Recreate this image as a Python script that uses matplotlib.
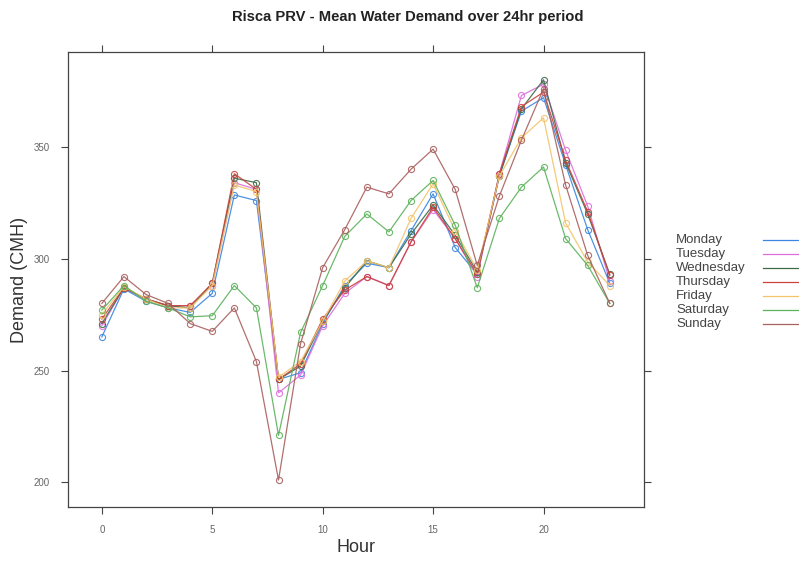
import matplotlib
matplotlib.use("Agg")
import matplotlib.pyplot as plt
from matplotlib.lines import Line2D

plt.rcParams['font.family'] = ['Liberation Sans', 'DejaVu Sans']

hours = list(range(24))
days = ["Monday", "Tuesday", "Wednesday", "Thursday", "Friday", "Saturday", "Sunday"]
colors = ["#3c86e0", "#dd6fdd", "#3d6b4a", "#c8443c", "#f2c46a", "#5cb25c", "#a8605e"]

monday = [265, 286.5, 281, 278, 276, 284.5, 328.5, 326, 246, 249, 271, 288, 298, 296,
          312.5, 329, 305, 293, 337, 366, 372, 342, 313, 289]
tuesday = [270, 287, 282, 279, 279, 288, 334, 331, 240, 248, 270, 284.5, 292, 288,
           307.5, 322, 309, 292, 338, 373, 378, 348.5, 323.5, 290]
wednesday = [271, 287, 282, 279, 278, 289, 336, 334, 246, 252, 272, 287, 299, 296,
             311, 324, 310.5, 294, 337, 367, 380, 343, 320, 293]
thursday = [273, 287, 282, 279, 279, 289, 338, 331, 246, 253, 273, 286, 292, 288,
            307.5, 323, 309, 293, 338, 368, 374.5, 344, 321, 292.5]
friday = [275, 287.5, 282, 278, 278, 288, 333, 330, 247, 254, 272, 290, 299, 296,
          318, 333.5, 312.5, 295, 337, 354, 363, 316, 298.5, 288]
saturday = [277, 288, 281, 278, 274, 274.5, 288, 278, 221, 267, 288, 310, 320, 312,
            326, 335, 315, 287, 318, 332, 341, 309, 297, 280]
sunday = [280, 292, 284, 280, 271, 267.5, 278, 254, 201, 262, 296, 313, 332, 329,
          340, 349, 331, 297, 328, 353, 376, 333, 301.5, 280]
series = [monday, tuesday, wednesday, thursday, friday, saturday, sunday]

x_ticks = [0, 5, 10, 15, 20]
y_ticks = [200, 250, 300, 350]

W, H = 799, 566
fig = plt.figure(figsize=(W / 100, H / 100), dpi=100)
left, right, top, bottom = 67.6, 644, 52.3, 506.7
ax = fig.add_axes([left / W, 1 - bottom / H, (right - left) / W, (bottom - top) / H])

for vals, col in zip(series, colors):
    ax.plot(hours, vals, color=col, lw=0.9, marker='o', ms=4.4, mfc='none',
            mec=col, mew=0.8, alpha=0.9)

ax.set_xlim(-1.55, 24.55)
ax.set_ylim(189.1, 392.3)
ax.set_xticks(x_ticks)
ax.set_yticks(y_ticks)
ax.tick_params(axis='both', which='both', direction='out', length=5, width=0.8,
               colors='#444444', labelsize=7, labelcolor='#666666',
               top=True, right=True, labeltop=False, labelright=False, pad=8)
for sp in ax.spines.values():
    sp.set_color('#444444')
    sp.set_linewidth(0.9)

fig.text(408 / W, 1 - 17 / H, "Risca PRV - Mean Water Demand over 24hr period",
         ha='center', va='center', fontsize=10.6, fontweight='bold', color='#222222')
fig.text(20 / W, 1 - 280 / H, "Demand (CMH)", rotation=90, ha='center', va='center',
         fontsize=13, color='#333333')
fig.text(356 / W, 1 - 548 / H, "Hour", ha='center', va='center',
         fontsize=13, color='#333333')

# legend drawn in figure coordinates
for i, (day, col) in enumerate(zip(days, colors)):
    yy = 1 - (240 + 14 * i) / H
    fig.text(676 / W, yy, day, ha='left', va='center', fontsize=9.5, color='#444444')
    fig.add_artist(Line2D([763 / W, 1.0], [yy, yy], transform=fig.transFigure,
                          color=col, lw=0.9))

fig.savefig("out.png", dpi=100, facecolor='white')
